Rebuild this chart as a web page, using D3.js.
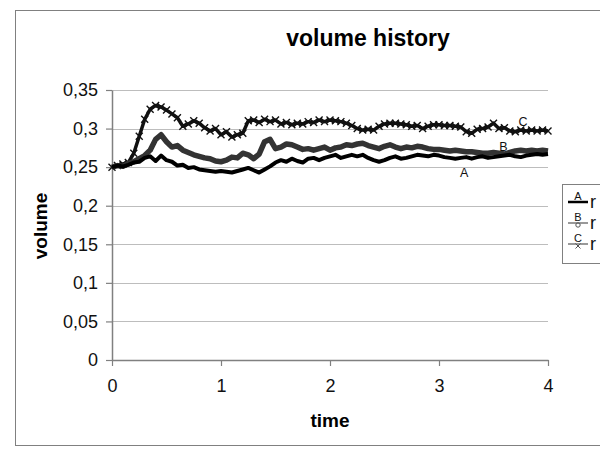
<!DOCTYPE html>
<html>
<head>
<meta charset="utf-8">
<script src="https://cdn.jsdelivr.net/npm/d3@7"></script>
<style>
  body { margin: 0; background: #fff; overflow: hidden; }
  svg { display: block; font-family: "Liberation Sans", Arial, sans-serif; }
</style>
</head>
<body>
<div id="chart"></div>
<script>
// sample times (shared by all three runs)
var times = d3.range(0, 81).map(function (i) { return +(i * 0.05).toFixed(2); });

// values, one per time step
var seriesA = [0.250, 0.252, 0.251, 0.253, 0.256, 0.257, 0.262, 0.264, 0.258, 0.265,
  0.259, 0.257, 0.252, 0.253, 0.249, 0.250, 0.247, 0.246, 0.245, 0.244,
  0.245, 0.244, 0.243, 0.245, 0.247, 0.249, 0.246, 0.243, 0.247, 0.251,
  0.256, 0.259, 0.257, 0.261, 0.258, 0.256, 0.261, 0.262, 0.259, 0.262,
  0.264, 0.266, 0.262, 0.264, 0.266, 0.264, 0.266, 0.262, 0.259, 0.257,
  0.259, 0.262, 0.264, 0.261, 0.262, 0.264, 0.266, 0.265, 0.264, 0.266,
  0.265, 0.263, 0.262, 0.261, 0.262, 0.263, 0.261, 0.263, 0.264, 0.262,
  0.263, 0.264, 0.265, 0.266, 0.264, 0.263, 0.265, 0.266, 0.267, 0.266, 0.267];

var seriesB = [0.250, 0.252, 0.251, 0.255, 0.257, 0.261, 0.265, 0.272, 0.286, 0.292,
  0.283, 0.276, 0.278, 0.272, 0.269, 0.266, 0.264, 0.262, 0.261, 0.258,
  0.257, 0.259, 0.263, 0.262, 0.268, 0.266, 0.261, 0.267, 0.283, 0.286,
  0.274, 0.276, 0.280, 0.279, 0.276, 0.273, 0.274, 0.272, 0.274, 0.276,
  0.272, 0.275, 0.276, 0.279, 0.278, 0.280, 0.281, 0.278, 0.276, 0.274,
  0.277, 0.279, 0.276, 0.274, 0.276, 0.275, 0.277, 0.276, 0.274, 0.273,
  0.273, 0.272, 0.271, 0.272, 0.271, 0.270, 0.270, 0.269, 0.268, 0.268,
  0.269, 0.268, 0.267, 0.269, 0.271, 0.272, 0.271, 0.272, 0.271, 0.272, 0.271];

var seriesC = [0.250, 0.252, 0.254, 0.256, 0.268, 0.290, 0.312, 0.325, 0.330, 0.328,
  0.324, 0.319, 0.314, 0.303, 0.306, 0.310, 0.307, 0.301, 0.297, 0.300,
  0.292, 0.296, 0.289, 0.292, 0.294, 0.310, 0.311, 0.308, 0.312, 0.309,
  0.311, 0.306, 0.308, 0.305, 0.307, 0.306, 0.309, 0.308, 0.311, 0.309,
  0.311, 0.310, 0.309, 0.307, 0.304, 0.300, 0.298, 0.299, 0.298, 0.303,
  0.306, 0.307, 0.307, 0.306, 0.305, 0.303, 0.304, 0.300, 0.303, 0.305,
  0.305, 0.304, 0.304, 0.303, 0.302, 0.296, 0.294, 0.299, 0.300, 0.302,
  0.307, 0.300, 0.301, 0.297, 0.296, 0.298, 0.297, 0.298, 0.297, 0.298, 0.297];

// legend names (only the first letter is visible in the picture)
var seriesNames = ["r", "r", "r"];
var seriesLetters = ["A", "B", "C"];
// where the letter tags sit on the chart (time, volume)
var letterPos = [[3.23, 0.237], [3.59, 0.271], [3.77, 0.303]];

var yTicks = [0, 0.05, 0.1, 0.15, 0.2, 0.25, 0.3, 0.35];
var xTicks = [0, 1, 2, 3, 4];

var W = 600, H = 451;
var svg = d3.select("#chart").append("svg").attr("width", W).attr("height", H);

// outer chart frame
svg.append("rect").attr("x", 15.5).attr("y", 10.5).attr("width", 700).attr("height", 435)
  .attr("fill", "#fff").attr("stroke", "#808080").attr("stroke-width", 1);

var x = d3.scaleLinear().domain([0, 4]).range([112, 548]);
var y = d3.scaleLinear().domain([0, 0.35]).range([360, 90]);

// gridlines
svg.append("g").selectAll("line").data(yTicks.slice(1)).enter().append("line")
  .attr("x1", x(0)).attr("x2", x(4))
  .attr("y1", function (d) { return Math.round(y(d)) + 0.5; })
  .attr("y2", function (d) { return Math.round(y(d)) + 0.5; })
  .attr("stroke", "#bdbdbd").attr("stroke-width", 1);

var fmt = function (d) { return String(d).replace(".", ","); };

var yAxis = svg.append("g").attr("transform", "translate(" + x(0) + ",0)")
  .call(d3.axisLeft(y).tickValues(yTicks).tickFormat(fmt).tickSize(6).tickSizeOuter(0).tickPadding(8));
var xAxis = svg.append("g").attr("transform", "translate(0," + y(0) + ")")
  .call(d3.axisBottom(x).tickValues(xTicks).tickFormat(d3.format("d")).tickSize(6).tickSizeOuter(0).tickPadding(13));

[yAxis, xAxis].forEach(function (ax) {
  ax.select(".domain").attr("stroke", "#808080").attr("stroke-width", 1.5);
  ax.selectAll(".tick line").attr("stroke", "#808080").attr("stroke-width", 1.2);
  ax.selectAll(".tick text").attr("fill", "#111").style("font-size", "18px")
    .style("font-family", "'Liberation Sans', Arial, sans-serif");
});

// series
var line = d3.line()
  .x(function (d, i) { return x(times[i]); })
  .y(function (d) { return y(d); });

svg.append("path").datum(seriesC).attr("d", line)
  .attr("fill", "none").attr("stroke", "#111").attr("stroke-width", 3.5).attr("stroke-linejoin", "round");
svg.append("g").selectAll("path").data(seriesC).enter().append("path")
  .attr("d", function (d, i) {
    var cx = x(times[i]), cy = y(d), s = 3.5;
    return "M" + (cx - s) + "," + (cy - s) + "L" + (cx + s) + "," + (cy + s) +
      "M" + (cx - s) + "," + (cy + s) + "L" + (cx + s) + "," + (cy - s);
  })
  .attr("stroke", "#111").attr("stroke-width", 1.4);

svg.append("path").datum(seriesB).attr("d", line)
  .attr("fill", "none").attr("stroke", "#333").attr("stroke-width", 5.5).attr("stroke-linejoin", "round");

svg.append("path").datum(seriesA).attr("d", line)
  .attr("fill", "none").attr("stroke", "#000").attr("stroke-width", 4).attr("stroke-linejoin", "round");

// letter tags on the lines
svg.append("g").selectAll("text").data(seriesLetters).enter().append("text")
  .attr("x", function (d, i) { return x(letterPos[i][0]); })
  .attr("y", function (d, i) { return y(letterPos[i][1]); })
  .attr("text-anchor", "middle").style("font-size", "12.5px").attr("fill", "#111")
  .text(function (d) { return d; });

// titles
svg.append("text").attr("x", 368).attr("y", 46).attr("text-anchor", "middle")
  .style("font-size", "23px").style("font-weight", "bold").text("volume history");
svg.append("text").attr("x", 330).attr("y", 427).attr("text-anchor", "middle")
  .style("font-size", "19px").style("font-weight", "bold").text("time");
svg.append("text").attr("transform", "translate(47,226) rotate(-90)").attr("text-anchor", "middle")
  .style("font-size", "19px").style("font-weight", "bold").text("volume");

// legend (cut off by the right edge)
var legend = svg.append("g");
legend.append("rect").attr("x", 562.5).attr("y", 184.5).attr("width", 120).attr("height", 79)
  .attr("fill", "#fff").attr("stroke", "#808080").attr("stroke-width", 1);
var rowY = [202, 223, 244];
var rows = legend.selectAll("g.row").data(seriesNames).enter().append("g").attr("class", "row")
  .attr("transform", function (d, i) { return "translate(0," + rowY[i] + ")"; });
rows.append("line").attr("x1", 568).attr("x2", 588).attr("y1", 0).attr("y2", 0)
  .attr("stroke", function (d, i) { return i === 0 ? "#000" : "#555"; })
  .attr("stroke-width", function (d, i) { return i === 0 ? 2.5 : 1.2; });
rows.append("text").attr("x", 578).attr("y", -2).attr("text-anchor", "middle")
  .style("font-size", "11px").attr("fill", "#111")
  .text(function (d, i) { return seriesLetters[i]; });
rows.filter(function (d, i) { return i === 1; }).append("circle")
  .attr("cx", 578).attr("cy", 2).attr("r", 2.2).attr("fill", "none").attr("stroke", "#555");
rows.filter(function (d, i) { return i === 2; }).append("path")
  .attr("d", "M575.5,-0.5L580.5,4.5M575.5,4.5L580.5,-0.5").attr("stroke", "#555");
rows.append("text").attr("x", 590).attr("y", 6).style("font-size", "18px").attr("fill", "#111")
  .text(function (d) { return d; });
</script>
</body>
</html>
